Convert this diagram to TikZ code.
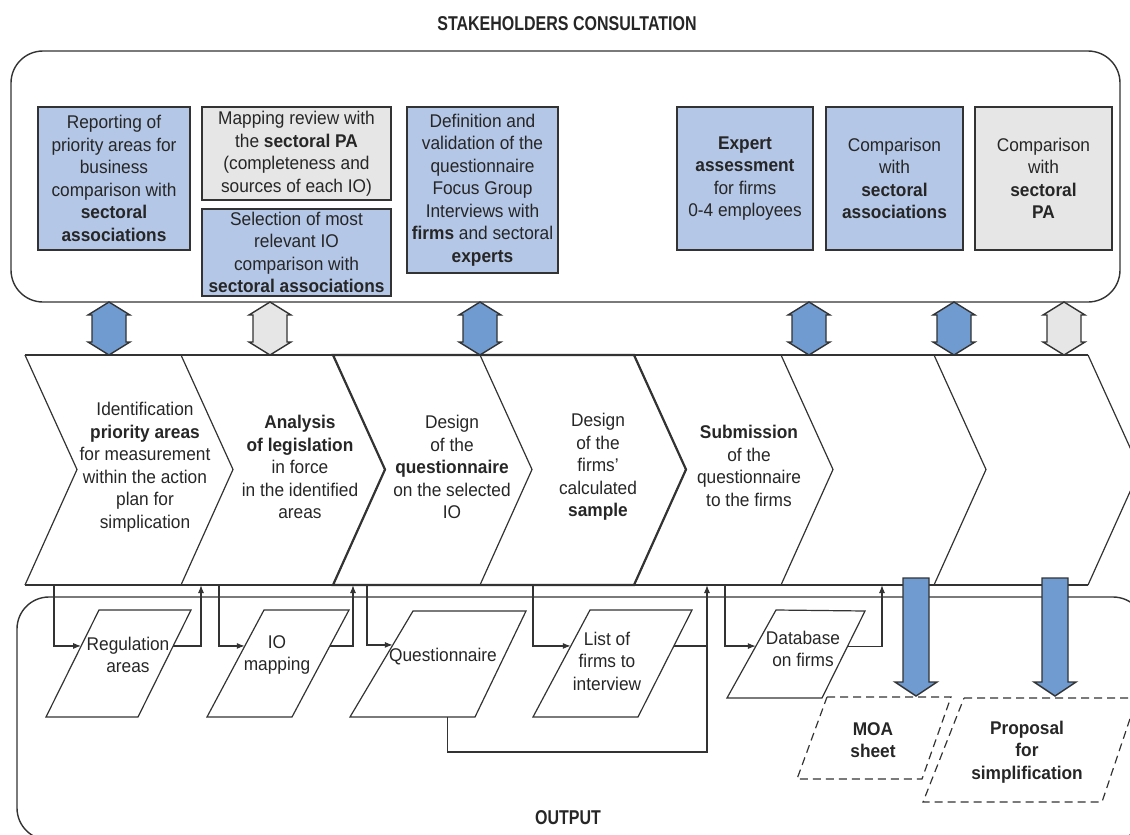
\documentclass[tikz,border=0pt]{standalone}
\usepackage{fontspec}
\setmainfont{Liberation Sans}[FakeStretch=0.94]
\newfontfamily\headfont{Liberation Sans}[FakeStretch=0.8]
\usetikzlibrary{calc,arrows.meta}
\definecolor{boxblue}{HTML}{B4C7E7}
\definecolor{arrowblue}{HTML}{6F9BD1}
\definecolor{boxgray}{HTML}{E6E6E6}
\definecolor{linegray}{HTML}{333333}
\definecolor{inkgray}{HTML}{262626}

\begin{document}
\begin{tikzpicture}[x=0.5pt,y=-0.5pt]
\tikzstyle{box} = [draw=linegray, line width=0.7pt, align=center, inner sep=1pt, text=inkgray, font=\fontsize{9.2}{11.25}\selectfont]
\tikzstyle{phase} = [align=center, inner sep=1pt, text=inkgray, font=\fontsize{9.2}{11.25}\selectfont]
\tikzstyle{para} = [draw=linegray, line width=0.6pt, line join=miter]
\tikzstyle{outdoc} = [para, dash pattern=on 4pt off 2.5pt]
\tikzstyle{flow} = [draw=linegray, line width=0.6pt, -{Latex[length=4pt,width=3pt]}]
\tikzstyle{fatarrow} = [draw=linegray, line width=0.7pt, line join=miter]
\tikzstyle{head} = [text=inkgray, font=\headfont\bfseries\fontsize{10}{12}\selectfont]

\useasboundingbox (0,0) rectangle (1130,835);
\clip (0,0) rectangle (1130,835);

% stakeholders
\node[head] (stake) at (567,24) {STAKEHOLDERS CONSULTATION};
\draw[linegray, line width=0.7pt, rounded corners=16pt] (11,51) rectangle (1120,302);

\node[box, fill=boxblue, minimum width=76pt, minimum height=71.5pt] (report) at (114,178.5) {Reporting of\\priority areas for\\business\\comparison with\\\textbf{sectoral}\\\textbf{associations}};
\node[box, fill=boxgray, minimum width=94.5pt, minimum height=46.5pt] (review) at (296.5,153.5) {Mapping review with\\the \textbf{sectoral PA}\\(completeness and\\sources of each IO)};
\node[box, fill=boxblue, minimum width=94.5pt, minimum height=43.5pt] (select) at (296.5,252.5) {Selection of most\\relevant IO\\comparison with\\\textbf{sectoral associations}};
\node[box, fill=boxblue, minimum width=75.5pt, minimum height=83pt] (define) at (482.5,190) {Definition and\\validation of the\\questionnaire\\Focus Group\\Interviews with\\\textbf{firms} and sectoral\\\textbf{experts}};
\node[box, fill=boxblue, minimum width=68pt, minimum height=71.5pt] (expert) at (745,178.5) {\textbf{Expert}\\\textbf{assessment}\\for firms\\0-4 employees};
\node[box, fill=boxblue, minimum width=68.5pt, minimum height=71.5pt] (assoc) at (894.5,178.5) {Comparison\\with\\\textbf{sectoral}\\\textbf{associations}};
\node[box, fill=boxgray, minimum width=68.5pt, minimum height=71.5pt] (pa) at (1043.5,178.5) {Comparison\\with\\\textbf{sectoral}\\\textbf{PA}};

\foreach \x/\c in {109/arrowblue,270/boxgray,480/arrowblue,809/arrowblue,954/arrowblue,1064/boxgray}
  \draw[fatarrow, fill=\c] (\x,302) -- (\x+21,315) -- (\x+17,315) -- (\x+17,342) -- (\x+21,342) -- (\x,355) -- (\x-21,342) -- (\x-17,342) -- (\x-17,315) -- (\x-21,315) -- cycle;

% process chevrons
\foreach \x in {25,181,333,480,634,781,934,1088}
  \draw[linegray, line width=0.6pt] (\x,355) -- (\x+52,469.5) -- (\x,585);
\draw[linegray, line width=0.6pt] (25,355) -- (1088,355) (25,585) -- (1088,585);
\draw[linegray, line width=1.1pt, line join=miter] (333,355) -- (634,355) -- (686,469.5) -- (634,585) -- (333,585) -- (385,469.5) -- cycle;

\node[phase] (ident) at (145,467) {Identification\\\textbf{priority areas}\\for measurement\\within the action\\plan for\\simplication};
\node[phase] (legis) at (300,467) {\textbf{Analysis}\\\textbf{of legislation}\\in force\\in the identified\\areas};
\node[phase] (quest) at (452,467) {Design\\of the\\\textbf{questionnaire}\\on the selected\\IO};
\node[phase] (sample) at (598,467) {Design\\of the\\firms'\\calculated\\\textbf{sample}};
\node[phase] (submit) at (749,466) {\textbf{Submission}\\of the\\questionnaire\\to the firms};

% output
\draw[linegray, line width=0.7pt, rounded corners=16pt] (17,597) rectangle (1145,840);
\node[head] (output) at (568,818) {OUTPUT};

\coordinate (regul-tl) at (99,610);     \coordinate (regul-tr) at (191,610);
\coordinate (regul-br) at (138,717);    \coordinate (regul-bl) at (46,717);
\coordinate (iomap-tl) at (264,610);    \coordinate (iomap-tr) at (349,610);
\coordinate (iomap-br) at (292,717);    \coordinate (iomap-bl) at (207,717);
\coordinate (questdoc-tl) at (413,611); \coordinate (questdoc-tr) at (526,611);
\coordinate (questdoc-br) at (475,717); \coordinate (questdoc-bl) at (350,717);
\coordinate (firmlist-tl) at (590,610); \coordinate (firmlist-tr) at (692,610);
\coordinate (firmlist-br) at (638,717); \coordinate (firmlist-bl) at (533,717);
\coordinate (database-tl) at (776,610); \coordinate (database-tr) at (865,611);
\coordinate (database-br) at (822,698); \coordinate (database-bl) at (727,698);
\coordinate (moa-tl) at (827,697);      \coordinate (moa-tr) at (951,697);
\coordinate (moa-br) at (922,779);      \coordinate (moa-bl) at (797,779);
\coordinate (proposal-tl) at (964,698); \coordinate (proposal-tr) at (1137,698);
\coordinate (proposal-br) at (1102,802); \coordinate (proposal-bl) at (923,802);

\foreach \n in {regul,iomap,questdoc,firmlist,database}
  \draw[para] (\n-tl) -- (\n-tr) -- (\n-br) -- (\n-bl) -- cycle;
\foreach \n in {moa,proposal}
  \draw[outdoc] (\n-tl) -- (\n-tr) -- (\n-br) -- (\n-bl) -- cycle;

\node[phase] (regultxt) at (128,655) {Regulation\\areas};
\node[phase] (iomaptxt) at (277,655) {IO\\mapping};
\node[phase] (questtxt) at (443,657) {Questionnaire};
\node[phase] (firmtxt) at (607,661) {List of\\firms to\\interview};
\node[phase] (datatxt) at (803,649) {Database\\on firms};
\node[phase, font=\bfseries\fontsize{9.2}{11.25}\selectfont] (moatxt) at (873,740) {MOA\\sheet};
\node[phase, font=\bfseries\fontsize{9.2}{11.25}\selectfont] (proptxt) at (1027,752) {Proposal\\for\\simplification};

% links between phases and outputs
\coordinate (tap1) at (54,585);
\coordinate (ret1) at (201,585);
\coordinate (tap2) at (219,585);
\coordinate (ret2) at (353,585);
\coordinate (tap3) at (367,585);
\coordinate (tap4) at (533,585);
\coordinate (ret4) at (707,585);
\coordinate (tap5) at (725,585);
\coordinate (ret5) at (882,585);
\coordinate (qloop) at (707,752);

\draw[flow] (tap1) |- ($(regul-tl)!0.336!(regul-bl)$);
\draw[flow] ($(regul-tr)!0.336!(regul-br)$) -| (ret1);
\draw[flow] (tap2) |- ($(iomap-tl)!0.336!(iomap-bl)$);
\draw[flow] ($(iomap-tr)!0.336!(iomap-br)$) -| (ret2);
\draw[flow] (tap3) |- ($(questdoc-tl)!0.32!(questdoc-bl)$);
\draw[flow] ($(questdoc-bl)!0.78!(questdoc-br)$) |- (qloop) -- (ret4);
\draw[flow] (tap4) |- ($(firmlist-tl)!0.336!(firmlist-bl)$);
\path ($(firmlist-tr)!0.336!(firmlist-br)$) coordinate (firmout);
\draw[linegray, line width=0.6pt] (firmout) -- (firmout -| qloop);
\draw[flow] (tap5) |- ($(database-tl)!0.41!(database-bl)$);
\draw[flow] ($(database-tr)!0.41!(database-br)$) -| (ret5);

\foreach \x in {916,1055}
  \draw[fatarrow, fill=arrowblue] (\x-13,578) -- (\x+13,578) -- (\x+13,682) -- (\x+21,682) -- (\x,696) -- (\x-21,682) -- (\x-13,682) -- cycle;
\end{tikzpicture}
\end{document}
